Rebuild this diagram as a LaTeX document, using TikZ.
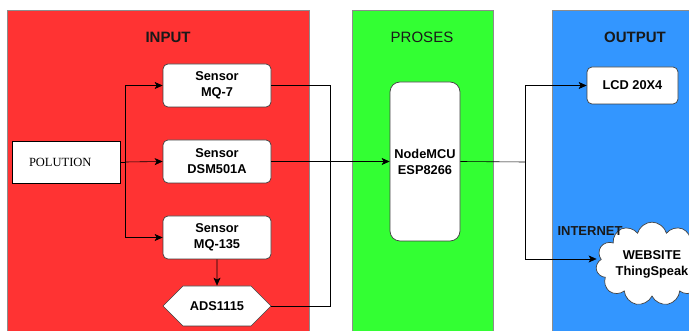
\documentclass[tikz,border=0pt]{standalone}
\usepackage{fontspec}
\setmainfont{Liberation Serif}
\setsansfont{Liberation Sans}
\usepackage{tikz}
\usetikzlibrary{arrows.meta,shapes.symbols,calc}
\definecolor{inred}{RGB}{255,51,51}
\definecolor{progreen}{RGB}{51,255,51}
\definecolor{outblue}{RGB}{51,150,255}

\begin{document}
\begin{tikzpicture}[x=1pt,y=-1pt,line width=0.6pt,
		>={Stealth[length=8pt,width=7pt,inset=2pt]},
		box/.style={draw=black!75,fill=white,rounded corners=5pt,line width=0.7pt,align=center,inner sep=0pt,
			minimum width=108pt,minimum height=43pt,font=\sffamily\bfseries\fontsize{12.8}{16}\selectfont},
		title/.style={font=\sffamily\bfseries\fontsize{15}{18}\selectfont,text=black!90}]
		\clip (0,0) rectangle (689,331);
		\fill[white] (0,0) rectangle (689,331);
		% panels
		\draw[black!45,fill=inred] (7,10) rectangle (309,345);
		\draw[black!45,fill=progreen] (352,10) rectangle (493,345);
		\draw[black!45,fill=outblue] (552,10) rectangle (700,345);
		\node[title] (tin) at (168,37) {INPUT};
		\node[title,font=\sffamily\fontsize{15}{18}\selectfont] (tpro) at (422,37) {PROSES};
		\node[title] (tout) at (635,37) {OUTPUT};
		% nodes
		\node[box,rounded corners=0pt,draw=black,minimum height=42pt,font=\fontsize{12.5}{15}\selectfont,text width=74pt,align=left] (pol) at (66,162) {POLUTION};
		\node[box] (mq7) at (217,85.5) {Sensor\\MQ-7};
		\node[box] (dsm) at (217,161.5) {Sensor\\DSM501A};
		\node[box] (mq135) at (217,237.5) {Sensor\\MQ-135};
		\node[box,shape=signal,signal to=west and east,signal pointer angle=90,rounded corners=0pt,minimum height=40pt] (ads) at (217,306) {ADS1115};
		\node[box,rounded corners=10pt,minimum width=70pt,minimum height=159pt] (mcu) at (425,161.5) {NodeMCU\\ESP8266};
		\node[box,minimum width=91pt,minimum height=37pt] (lcd) at (632.5,85.5) {LCD 20X4};
		\node[box,shape=cloud,cloud puffs=11,aspect=1.6,rounded corners=0pt,minimum width=105pt,minimum height=67pt] (web) at (652,264) {WEBSITE\\ThingSpeak};
		\node[title,font=\sffamily\bfseries\fontsize{13}{16}\selectfont] (inet) at (590,231) {INTERNET};
		\coordinate (split) at (125,162);
		\coordinate (split2) at (525,162);
		% connectors
		\draw (pol.east) -- (split);
		\path[->]
		(split) edge (dsm.west)
		(mq135) edge (ads)
		(dsm.east) edge (mcu.west)
		;
		\draw[->] (split) |- (mq7.west);
		\draw[->] (split) |- (mq135.west);
		\draw (mq7.east) -| ($(ads.east)+(59,0)$) -- (ads.east);
		\draw (mcu.east) -- (split2);
		\draw[->] (split2) |- (lcd.west);
		\draw[->] (split2) |- ($(web.west)+(0,-5)$);
\end{tikzpicture}
\end{document}
